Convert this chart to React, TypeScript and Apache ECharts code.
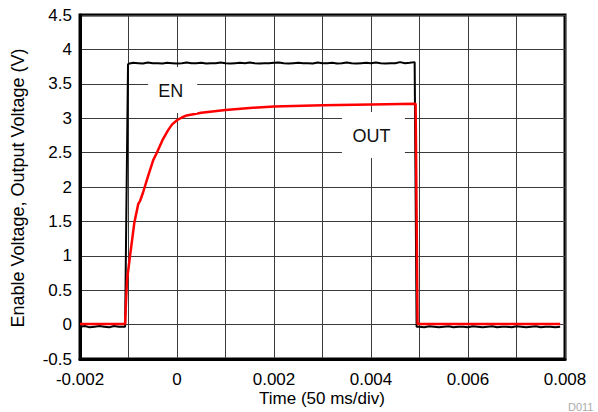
import React, { useEffect, useRef } from "react";
import * as echarts from "echarts";

// ---- EN (black) ----
// baseline before the enable edge, sampled from -0.002 s every 0.0001 s
const enPreStart = -0.002;
const enPreVolt = [-0.03, -0.02, -0.04, -0.03, -0.02, -0.03, -0.04, -0.02, -0.03, -0.03];
// rising edge
const enEdgeTime = [-0.00107, -0.00104, -0.00101];
const enEdgeVolt = [-0.03, 1.9, 3.78];
// high level, sampled from -0.001 s every 0.0001 s
const enHighStart = -0.001;
const enHighVolt = [
  3.79, 3.805, 3.80, 3.795, 3.81, 3.80, 3.80, 3.795, 3.805, 3.80,
  3.795, 3.80, 3.81, 3.80, 3.80, 3.805, 3.795, 3.80, 3.80, 3.81,
  3.80, 3.795, 3.80, 3.805, 3.80, 3.81, 3.80, 3.795, 3.80, 3.80,
  3.805, 3.81, 3.80, 3.795, 3.80, 3.805, 3.80, 3.80, 3.795, 3.81,
  3.80, 3.80, 3.805, 3.795, 3.80, 3.81, 3.80, 3.795, 3.80, 3.805,
  3.80, 3.81, 3.80, 3.795, 3.80, 3.80, 3.815, 3.80, 3.805, 3.815,
];
// falling edge
const enFallTime = [0.00491, 0.00494];
const enFallVolt = [3.81, -0.03];
// baseline after, sampled from 0.005 s every 0.0001 s
const enPostStart = 0.005;
const enPostVolt = [
  -0.03, -0.04, -0.025, -0.03, -0.04, -0.03, -0.025, -0.04, -0.03, -0.03,
  -0.04, -0.025, -0.03, -0.04, -0.03, -0.025, -0.04, -0.03, -0.03, -0.04,
  -0.025, -0.03, -0.04, -0.03, -0.025, -0.04, -0.03, -0.03, -0.04, -0.03,
];
const sampleStep = 0.0001;

// ---- OUT (red) ----
const outTime = [
  -0.002, -0.00107, -0.00105, -0.00103, -0.00097, -0.00088, -0.0008, -0.00076,
  -0.0007, -0.0006, -0.00049, -0.00042, -0.0003, -0.00018, -0.0001, 0,
  0.0001, 0.0002, 0.0005, 0.001, 0.0015, 0.002, 0.003, 0.004, 0.00492, 0.00496, 0.0079,
];
const outVolt = [
  0.01, 0.01, 0.35, 0.65, 0.99, 1.48, 1.75, 1.8,
  1.92, 2.15, 2.39, 2.49, 2.68, 2.83, 2.91, 2.97,
  3.01, 3.04, 3.08, 3.12, 3.15, 3.17, 3.19, 3.2, 3.21, 0.01, 0.01,
];

// axis ranges
const xMin = -0.002;
const xMax = 0.008;
const xStep = 0.001;
const yMin = -0.5;
const yMax = 4.5;
const yStep = 0.5;

// annotations (data-space anchors)
const enLabel = { text: "EN", x: -0.00009, y: 3.41 };
const outLabel = { text: "OUT", x: 0.00405, y: 2.756 };

function sampled(start: number, values: number[]): [number, number][] {
  return values.map((v, i) => [start + i * sampleStep, v]);
}
function paired(t: number[], v: number[]): [number, number][] {
  return t.map((x, i) => [x, v[i]]);
}

const FONT = "'Liberation Sans', Arial, Helvetica, sans-serif";

export default function App() {
  const ref = useRef<HTMLDivElement>(null);
  useEffect(() => {
    if (!ref.current) return;
    const chart = echarts.init(ref.current, undefined, { renderer: "svg" });
    const enData = [
      ...sampled(enPreStart, enPreVolt),
      ...paired(enEdgeTime, enEdgeVolt),
      ...sampled(enHighStart, enHighVolt),
      ...paired(enFallTime, enFallVolt),
      ...sampled(enPostStart, enPostVolt),
    ];
    const outData = paired(outTime, outVolt);
    const gridLine = { color: "#3a3a3a", width: 1 };
    chart.setOption({
      animation: false,
      backgroundColor: "#fff",
      grid: {
        left: 80,
        right: 33,
        top: 15,
        bottom: 53,
        show: true,
        borderColor: "#000",
        borderWidth: 3,
        backgroundColor: "transparent",
      },
      xAxis: {
        type: "value",
        min: xMin,
        max: xMax,
        interval: xStep,
        axisLine: { show: true, onZero: false, lineStyle: { color: "#000", width: 3 } },
        axisTick: { show: false },
        splitLine: { show: true, lineStyle: gridLine },
        axisLabel: {
          interval: 1,
          margin: 12,
          color: "#000",
          fontSize: 17,
          fontFamily: FONT,
          formatter: (v: number) => {
            const k = Math.round(v / xStep);
            if (k % 2 !== 0) return "";
            return Math.abs(v) < 1e-9 ? "0" : v.toFixed(3);
          },
        },
      },
      yAxis: {
        type: "value",
        min: yMin,
        max: yMax,
        interval: yStep,
        axisLine: { show: true, onZero: false, lineStyle: { color: "#000", width: 3 } },
        axisTick: { show: false },
        splitLine: { show: true, lineStyle: gridLine },
        axisLabel: {
          margin: 8,
          color: "#000",
          fontSize: 17,
          fontFamily: FONT,
          formatter: (v: number) => String(Math.round(v * 10) / 10),
        },
      },
      series: [
        {
          name: "EN",
          type: "line",
          data: enData,
          showSymbol: false,
          symbol: "none",
          lineStyle: { color: "#000", width: 2 },
          z: 3,
        },
        {
          name: "OUT",
          type: "line",
          data: outData,
          showSymbol: false,
          symbol: "none",
          lineStyle: { color: "#ff0000", width: 2.5 },
          z: 4,
        },
      ],
    });

    const [ex, ey] = chart.convertToPixel({ gridIndex: 0 }, [enLabel.x, enLabel.y]) as number[];
    const [ox, oy] = chart.convertToPixel({ gridIndex: 0 }, [outLabel.x, outLabel.y]) as number[];
    const box = (cx: number, cy: number, w: number, h: number, text: string) => [
      {
        type: "rect",
        shape: { x: cx - w / 2, y: cy - h / 2, width: w, height: h },
        style: { fill: "#fff" },
        z: 50,
      },
      {
        type: "text",
        x: cx - 2,
        y: cy + 1,
        style: {
          text,
          fill: "#111",
          font: `18px ${FONT}`,
          textAlign: "center",
          textVerticalAlign: "middle",
        },
        z: 51,
      },
    ];
    chart.setOption({
      graphic: [
        ...box(ex, ey, 49, 46, enLabel.text),
        ...box(ox, oy, 63, 46, outLabel.text),
        {
          type: "text",
          x: 322,
          y: 398,
          style: {
            text: "Time (50 ms/div)",
            fill: "#000",
            font: `17px ${FONT}`,
            textAlign: "center",
            textVerticalAlign: "middle",
          },
        },
        {
          type: "text",
          x: 18,
          y: 188,
          rotation: Math.PI / 2,
          style: {
            text: "Enable Voltage, Output Voltage (V)",
            fill: "#000",
            font: `18px ${FONT}`,
            textAlign: "center",
            textVerticalAlign: "middle",
          },
        },
        {
          type: "text",
          x: 568,
          y: 407,
          style: {
            text: "D011",
            fill: "#aaa",
            font: `11px ${FONT}`,
            textAlign: "left",
            textVerticalAlign: "middle",
          },
        },
      ],
    });
    return () => chart.dispose();
  }, []);
  return (
    <div
      ref={ref}
      style={{ position: "fixed", left: 0, top: 0, width: 598, height: 412, background: "#fff" }}
    />
  );
}
